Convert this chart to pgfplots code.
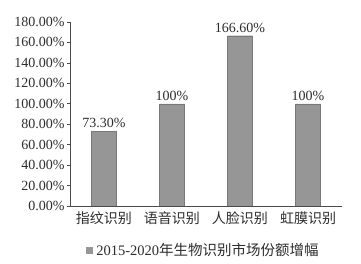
\documentclass[border=0pt]{standalone}
\usepackage{pgfplots}
\pgfplotsset{compat=1.18}
\usepackage{pgfplotstable}
\usepackage{fontspec}
\setmainfont{Liberation Serif}
\newfontfamily\cjk{Noto Sans CJK SC}
\definecolor{barfill}{RGB}{150,150,150}
\definecolor{txt}{RGB}{45,45,45}
\pgfplotstableread{
x y lab
0 73.3 73.30\%
1 100 100\%
2 166.6 166.60\%
3 100 100\%
}\datatab
\begin{document}
\begin{tikzpicture}
\begin{axis}[
  scale only axis,
  width=272pt, height=184pt,
  xmin=-0.5, xmax=3.5,
  ymin=0, ymax=180,
  axis lines*=left,
  axis line style={black!70, line width=0.6pt},
  tick style={black!70, line width=0.6pt},
  tick align=outside,
  ytick={0,20,...,180},
  major tick length=3pt,
  yticklabel={\pgfmathprintnumber[fixed,fixed zerofill,precision=2]{\tick}\%},
  /pgf/number format/assume math mode=true,
  xtick={0,1,2,3},
  xticklabels={{\cjk 指纹识别},{\cjk 语音识别},{\cjk 人脸识别},{\cjk 虹膜识别}},
  x tick style={draw=none},
  extra x ticks={0.5,1.5,2.5,3.5},
  extra x tick labels={},
  extra x tick style={tick style={black!70, line width=0.6pt, draw=black!70}, major tick length=4pt},
  xticklabel style={font=\fontsize{14}{16}\selectfont, text=txt, yshift=1pt},
  yticklabel style={font=\fontsize{14}{16}\selectfont, text=txt, xshift=1pt},
  every node near coord/.append style={font=\fontsize{14}{16}\selectfont, text=txt},
  nodes near coords=\pgfplotspointmeta,
  point meta=explicit symbolic,
  legend style={at={(0.49,-0.24)}, anchor=center, draw=none, fill=none,
    font=\fontsize{14.5}{16}\selectfont, text=txt},
  legend image code/.code={\fill[barfill] (0pt,-2.8pt) rectangle (5.6pt,2.8pt); \path (8pt,0pt);},
]
\addplot[ybar, bar width=25pt, fill=barfill, draw=barfill!80!black, line width=0.3pt]
  table[x=x, y=y, meta=lab] {\datatab};
\addlegendentry{2015-2020{\cjk 年生物识别市场份额增幅}}
\end{axis}
\pgfresetboundingbox
\path (-70pt,-58pt) rectangle (291pt,206pt);
\end{tikzpicture}
\end{document}
